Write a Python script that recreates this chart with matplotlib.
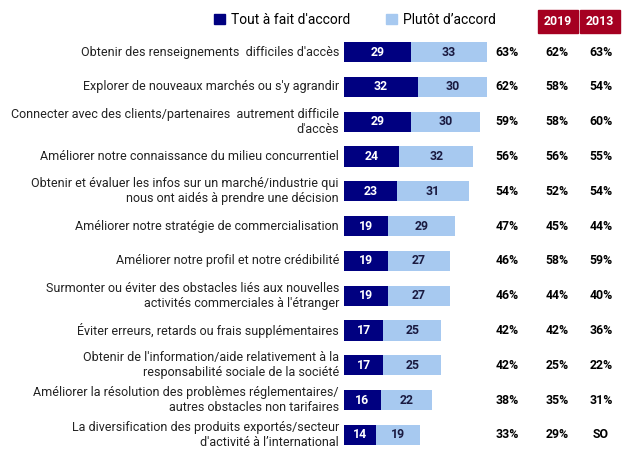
import matplotlib.pyplot as plt
from matplotlib.patches import Rectangle, Patch

# Données
categories = [
    "Obtenir des renseignements  difficiles d'accès",
    "Explorer de nouveaux marchés ou s'y agrandir",
    "Connecter avec des clients/partenaires  autrement difficile\nd'accès",
    "Améliorer notre connaissance du milieu concurrentiel",
    "Obtenir et évaluer les infos sur un marché/industrie qui\nnous ont aidés à prendre une décision",
    "Améliorer notre stratégie de commercialisation",
    "Améliorer notre profil et notre crédibilité",
    "Surmonter ou éviter des obstacles liés aux nouvelles\nactivités commerciales à l'étranger",
    "Éviter erreurs, retards ou frais supplémentaires",
    "Obtenir de l'information/aide relativement à la\nresponsabilité sociale de la société",
    "Améliorer la résolution des problèmes réglementaires/\nautres obstacles non tarifaires",
    "La diversification des produits exportés/secteur\nd'activité à l’international",
]
tout_a_fait = [29, 32, 29, 24, 23, 19, 19, 19, 17, 17, 16, 14]
plutot = [33, 30, 30, 32, 31, 29, 27, 27, 25, 25, 22, 19]
total_2022 = ["63%", "62%", "59%", "56%", "54%", "47%", "46%", "46%", "42%", "42%", "38%", "33%"]
val_2019 = ["62%", "58%", "58%", "56%", "52%", "45%", "58%", "44%", "42%", "25%", "35%", "29%"]
val_2013 = ["63%", "54%", "60%", "55%", "54%", "44%", "59%", "40%", "36%", "22%", "31%", "SO"]
annees = ["2019", "2013"]

dark = "#000080"
light = "#A7C9F0"
rouge = "#A50021"

plt.rcParams['font.family'] = ['Roboto', 'DejaVu Sans']

fig = plt.figure(figsize=(6.24, 4.68), dpi=100)
ax = fig.add_axes([344 / 624, 1 - 452 / 468, 280 / 624, 417 / 468])

ypos = list(range(len(categories)))
ax.barh(ypos, tout_a_fait, height=0.58, color=dark)
ax.barh(ypos, plutot, left=tout_a_fait, height=0.58, color=light)

for i in ypos:
    a, b = tout_a_fait[i], plutot[i]
    ax.text(a / 2, i, str(a), ha='center', va='center', color='white',
            fontsize=8.8, fontweight='bold')
    ax.text(a + b / 2, i, str(b), ha='center', va='center', color='#1a1a40',
            fontsize=8.8, fontweight='bold')
    ax.text(-2.2, i, categories[i], ha='right', va='center', fontsize=9,
            color='#222222', linespacing=1.2)
    ax.text(70.5, i, total_2022[i], ha='center', va='center', fontsize=8.8, fontweight='bold')
    ax.text(92.2, i, val_2019[i], ha='center', va='center', fontsize=8.8, fontweight='bold')
    ax.text(111.3, i, val_2013[i], ha='center', va='center', fontsize=8.8, fontweight='bold')

ax.set_xlim(0, 280 / 2.31)
ax.set_ylim(11.49, -0.49)
ax.axis('off')

# En-têtes des années
for x0, an in zip([538, 580], annees):
    fig.add_artist(Rectangle((x0 / 624, 1 - 33 / 468), 40 / 624, 23 / 468,
                             transform=fig.transFigure, color=rouge))
    fig.text((x0 + 20) / 624, 1 - 21.5 / 468, an, ha='center', va='center',
             color='white', fontsize=8.8, fontweight='bold')

handles = [Patch(color=dark), Patch(color=light)]
fig.legend(handles, ["Tout à fait d'accord", "Plutôt d’accord"], loc='center',
           bbox_to_anchor=(355 / 624, 1 - 20 / 468), ncol=2, frameon=False,
           fontsize=10, handlelength=0.8, handleheight=0.8, handletextpad=0.4,
           columnspacing=2.6)

fig.savefig("out.png", dpi=100)
